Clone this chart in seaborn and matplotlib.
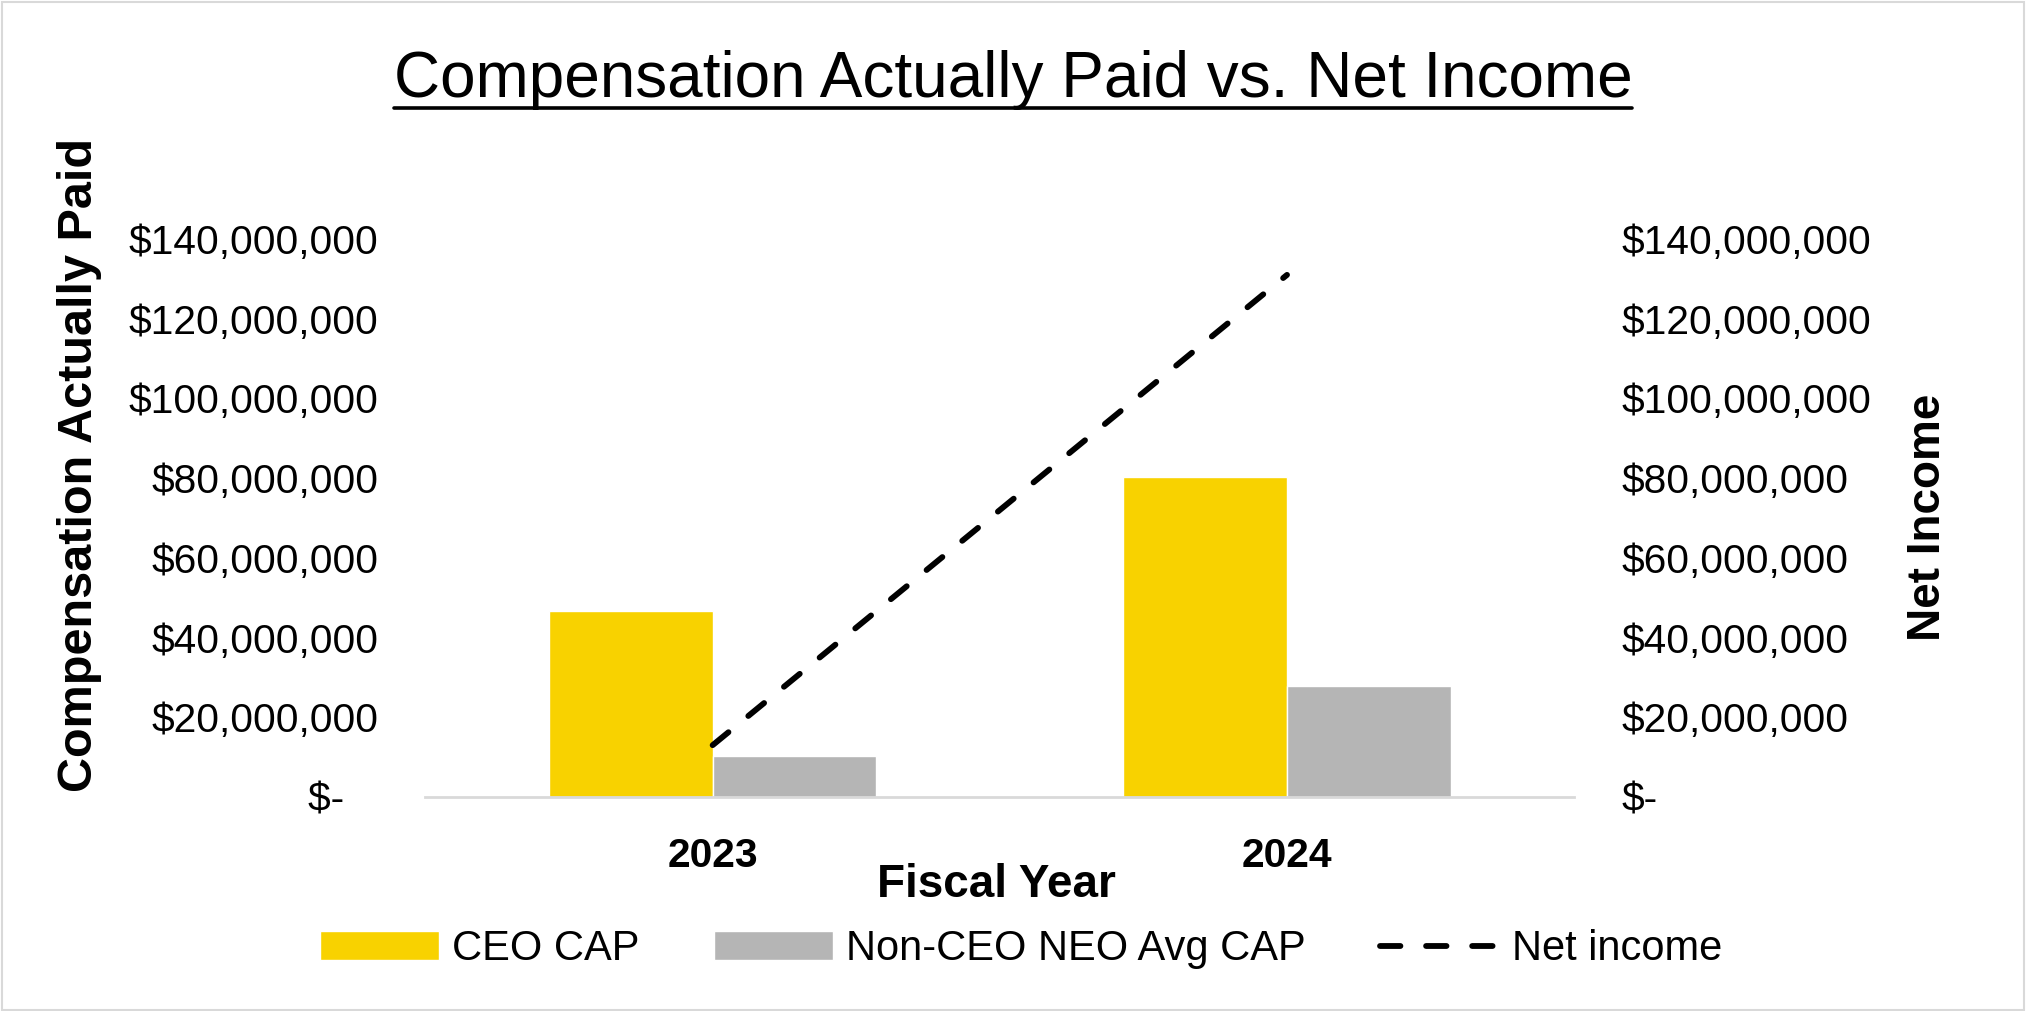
import matplotlib
matplotlib.use("Agg")
import matplotlib.pyplot as plt
import seaborn as sns
import numpy as np
import pandas as pd
from matplotlib.ticker import FuncFormatter, MultipleLocator
from matplotlib.lines import Line2D
from matplotlib.patches import Rectangle

# data
years = ["2023", "2024"]
ceo_cap = [46.7e6, 80.3e6]
neo_avg_cap = [10.3e6, 27.9e6]
net_income = [13.0e6, 131.0e6]
series_names = ["CEO CAP", "Non-CEO NEO Avg CAP"]
bar_colors = ["#F8D200", "#B5B5B5"]

sns.set_theme(style="white")
plt.rcParams['font.family'] = ['Liberation Sans', 'DejaVu Sans']
plt.rcParams['text.color'] = 'black'
plt.rcParams['axes.labelcolor'] = 'black'
plt.rcParams['xtick.color'] = 'black'
plt.rcParams['ytick.color'] = 'black'

df = pd.DataFrame({
    "year": years * 2,
    "value": ceo_cap + neo_avg_cap,
    "series": [series_names[0]] * 2 + [series_names[1]] * 2,
})

fig = plt.figure(figsize=(20.26, 10.11), dpi=100)
ax = fig.add_axes([0.210, 0.2117, 0.567, 0.5519])

sns.barplot(data=df, x="year", y="value", hue="series", palette=bar_colors,
            width=0.57, gap=0, saturation=1, ax=ax, legend=True)
h1, l1 = ax.get_legend_handles_labels()
ax.get_legend().remove()

ax2 = ax.twinx()
sns.lineplot(x=np.arange(len(years)), y=net_income, ax=ax2, color="black",
             linewidth=4.2, label="Net income")
ax2.lines[0].set_dashes((3.5, 4.4))
ax2.lines[0].set_dash_capstyle("round")
h2, l2 = ax2.get_legend_handles_labels()
ax2.get_legend().remove()

ax.set_xlim(-0.5, 1.5)
for a in (ax, ax2):
    a.set_ylim(0, 140e6)
    a.yaxis.set_major_locator(MultipleLocator(20e6))
    for s in a.spines.values():
        s.set_visible(False)
ax.spines["bottom"].set_visible(True)
ax.spines["bottom"].set_color("#D9D9D9")
ax.spines["bottom"].set_linewidth(2)

ax.yaxis.set_major_formatter(FuncFormatter(lambda v, p: "$-   " if v == 0 else f"${v:,.0f}"))
ax2.yaxis.set_major_formatter(FuncFormatter(lambda v, p: "$-" if v == 0 else f"${v:,.0f}"))
ax.tick_params(axis="y", length=0, pad=34, labelsize=29.3)
ax2.tick_params(axis="y", length=0, pad=34, labelsize=29.3)
ax.tick_params(axis="x", length=0, pad=29, labelsize=29.3)
for t in ax.get_xticklabels():
    t.set_fontweight("bold")

ax.set_xlabel("Fiscal Year", fontsize=33, fontweight="bold", va="center")
ax.xaxis.set_label_coords(0.497, -0.158)
ax.set_ylabel("Compensation Actually Paid", fontsize=35, fontweight="bold", va="center")
ax.yaxis.set_label_coords(-0.301, 0.595)
ax2.set_ylabel("Net Income", fontsize=33, fontweight="bold", va="center", rotation=90)
ax2.yaxis.set_label_coords(1.308, 0.502)

title = fig.text(0.5, 0.921, "Compensation Actually Paid vs. Net Income",
                 ha="center", va="center", fontsize=46)

fig.legend(h1 + h2, l1 + l2, loc="center", bbox_to_anchor=(0.504, 0.061), ncol=3,
           frameon=False, fontsize=30, handlelength=2.85, handleheight=0.7,
           handletextpad=0.32, columnspacing=1.78)

# underline the title, Excel style
fig.canvas.draw()
bb = title.get_window_extent(renderer=fig.canvas.get_renderer())
bb = bb.transformed(fig.transFigure.inverted())
fig.add_artist(Line2D([bb.x0, bb.x1], [bb.y0 + 0.002, bb.y0 + 0.002],
                      transform=fig.transFigure, color="black", linewidth=2.6))

# light frame round the chart area
fig.add_artist(Rectangle((0.001, 0.001), 0.998, 0.997, transform=fig.transFigure,
                         fill=False, edgecolor="#D9D9D9", linewidth=1.5))

fig.savefig("out.png", dpi=100)
